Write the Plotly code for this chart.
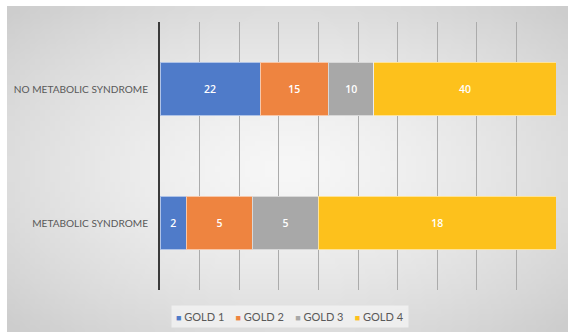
import base64
import struct
import zlib

import numpy as np
import plotly.graph_objects as go

# Patient counts per GOLD stage for each group
categories = ["METABOLIC SYNDROME", "NO METABOLIC SYNDROME"]
series_names = ["GOLD 1", "GOLD 2", "GOLD 3", "GOLD 4"]
gold1 = [2, 22]
gold2 = [5, 15]
gold3 = [5, 10]
gold4 = [18, 40]
series_values = [gold1, gold2, gold3, gold4]
colors = ["#4f7bc9", "#ee8440", "#a8a8a8", "#fdc11c"]

W, H = 568, 332
L, R, T, B = 160, 12, 22, 42
plot_w, plot_h = W - L - R, H - T - B


def gradient_png(w, h):
    """Soft radial grey gradient used as the chart-area background."""
    yy, xx = np.mgrid[0:h, 0:w]
    u = (xx / (w - 1)) * 2 - 1
    v = (yy / (h - 1)) * 2 - 1
    r = np.clip(np.sqrt(u ** 2 + v ** 2) / np.sqrt(2), 0, 1)
    val = 247 - (247 - 205) * r ** 1.4
    img = np.clip(val, 0, 255).astype(np.uint8)
    raw = b"".join(b"\x00" + bytes(np.repeat(row, 3)) for row in img)

    def chunk(tag, data):
        c = struct.pack(">I", len(data)) + tag + data
        return c + struct.pack(">I", zlib.crc32(tag + data) & 0xFFFFFFFF)

    png = b"\x89PNG\r\n\x1a\n"
    png += chunk(b"IHDR", struct.pack(">IIBBBBB", w, h, 8, 2, 0, 0, 0))
    png += chunk(b"IDAT", zlib.compress(raw, 9))
    png += chunk(b"IEND", b"")
    return "data:image/png;base64," + base64.b64encode(png).decode()


fig = go.Figure()
for name, vals, col in zip(series_names, series_values, colors):
    fig.add_trace(go.Bar(
        y=categories,
        x=vals,
        name=name,
        orientation="h",
        marker=dict(color=col, line=dict(color="rgba(255,255,255,0.55)", width=1)),
        text=vals,
        texttemplate="%{text}",
        textposition="inside",
        insidetextanchor="middle",
        textfont=dict(color="white", size=10.5, family="Open Sans", weight=600),
        hoverinfo="skip",
        showlegend=False,
    ))

# frame of the chart area, expressed in plot-area paper units
fx0, fy0 = 7, 6
fig.add_layout_image(dict(
    source=gradient_png(112, 64),
    xref="paper", yref="paper",
    x=(fx0 - L) / plot_w, y=(H - B - fy0) / plot_h,
    sizex=(W - fx0) / plot_w, sizey=(H - fy0) / plot_h,
    xanchor="left", yanchor="top",
    sizing="stretch", layer="below",
))

# compact legend: small coloured squares followed by the series names
legend_text = "&nbsp;&nbsp;&nbsp;&nbsp;".join(
    f"<span style='color:{c};font-size:9px'>■</span> {n}"
    for n, c in zip(series_names, colors)
)
fig.add_annotation(
    text=legend_text,
    xref="paper", yref="paper",
    x=(289.5 - L) / plot_w, y=(H - B - 316) / plot_h,
    xanchor="center", yanchor="middle",
    showarrow=False,
    font=dict(family="Lato", size=11, color="#595959"),
    bgcolor="rgba(242,242,242,0.8)",
    borderpad=4,
)

fig.update_layout(
    width=W, height=H,
    margin=dict(l=L, r=R, t=T, b=B, autoexpand=False),
    barmode="stack",
    barnorm="percent",
    bargap=0.6,
    paper_bgcolor="white",
    plot_bgcolor="rgba(0,0,0,0)",
    showlegend=False,
    font=dict(family="Lato", size=10, color="#595959"),
)

fig.update_xaxes(
    range=[0, 100], dtick=10, showticklabels=False,
    showgrid=True, gridcolor="#ababab", gridwidth=1,
    zeroline=False, showline=False, fixedrange=True,
    automargin=False,
)
fig.update_yaxes(
    categoryorder="array", categoryarray=categories,
    showline=True, linecolor="#3a3a3a", linewidth=2,
    ticks="", ticklabelstandoff=8,
    tickfont=dict(family="Lato", size=10.1, color="#595959"),
    showgrid=False, fixedrange=True,
    automargin=False,
)

fig.write_html("out.html")
